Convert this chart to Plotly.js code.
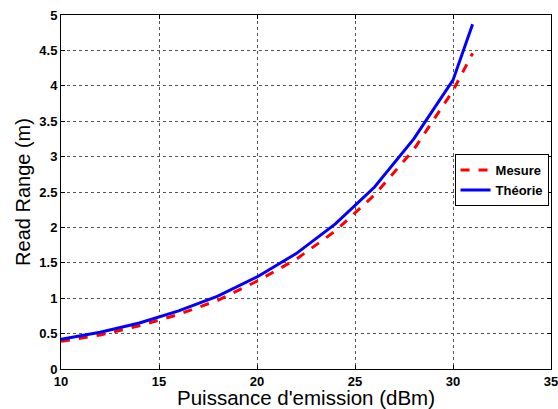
<!DOCTYPE html>
<html><head><meta charset="utf-8">
<script src="https://cdn.plot.ly/plotly-3.0.1.min.js"></script>
<style>html,body{margin:0;padding:0;background:#fff}</style>
</head><body><div id="c" style="width:558px;height:409px"></div>
<script>
const power = [10, 12, 14, 16, 18, 20, 22, 24, 26, 28, 30, 31];
const mesure = [0.39, 0.48, 0.61, 0.77, 0.97, 1.24, 1.55, 1.95, 2.46, 3.10, 3.93, 4.46];
const theorie = [0.42, 0.52, 0.65, 0.82, 1.03, 1.30, 1.63, 2.05, 2.57, 3.25, 4.08, 4.87];
const xTicks = [10, 15, 20, 25, 30, 35];
const yTicks = [0, 0.5, 1, 1.5, 2, 2.5, 3, 3.5, 4, 4.5, 5];
const yTickText = ['0', '0.5', '1', '1.5', '2', '2.5', '3', '3.5', '4', '4.5', '5'];

const fam = 'Arial, "Liberation Sans", sans-serif';
const traces = [
  {x: power, y: mesure, name: 'Mesure', mode: 'lines', line: {color: '#ff0000', width: 3, dash: 'dash'}},
  {x: power, y: theorie, name: 'Théorie', mode: 'lines', line: {color: '#0000ff', width: 3}}
];
const axisCommon = {
  showline: true, linecolor: '#000', linewidth: 1, mirror: 'ticks',
  ticks: 'inside', ticklen: 4, tickcolor: '#000',
  showgrid: true, gridcolor: '#555', gridwidth: 1, griddash: 'dot',
  zeroline: false, ticklabeloverflow: 'allow',
  tickfont: {family: fam, size: 13, color: '#000', weight: 'bold'}
};
const layout = {
  width: 558, height: 409,
  margin: {l: 61, r: 7, t: 15, b: 40},
  paper_bgcolor: '#fff', plot_bgcolor: '#fff',
  showlegend: true,
  legend: {x: 0.995, y: 0.607, xanchor: 'right', yanchor: 'top',
    bordercolor: '#000', borderwidth: 1, bgcolor: '#fff',
    font: {family: fam, size: 13, color: '#000', weight: 'bold'},
    tracegroupgap: 0, itemwidth: 30},
  xaxis: Object.assign({}, axisCommon, {
    range: [10, 35], tickvals: xTicks, ticktext: xTicks.map(String),
    title: {text: "Puissance d'emission (dBm)", font: {family: fam, size: 20.5, color: '#000'}, standoff: 0}
  }),
  yaxis: Object.assign({}, axisCommon, {
    range: [0, 5], tickvals: yTicks, ticktext: yTickText,
    title: {text: 'Read Range (m)', font: {family: fam, size: 20, color: '#000'}, standoff: 3}
  })
};
Plotly.newPlot('c', traces, layout, {displayModeBar: false, staticPlot: true});
</script></body></html>
